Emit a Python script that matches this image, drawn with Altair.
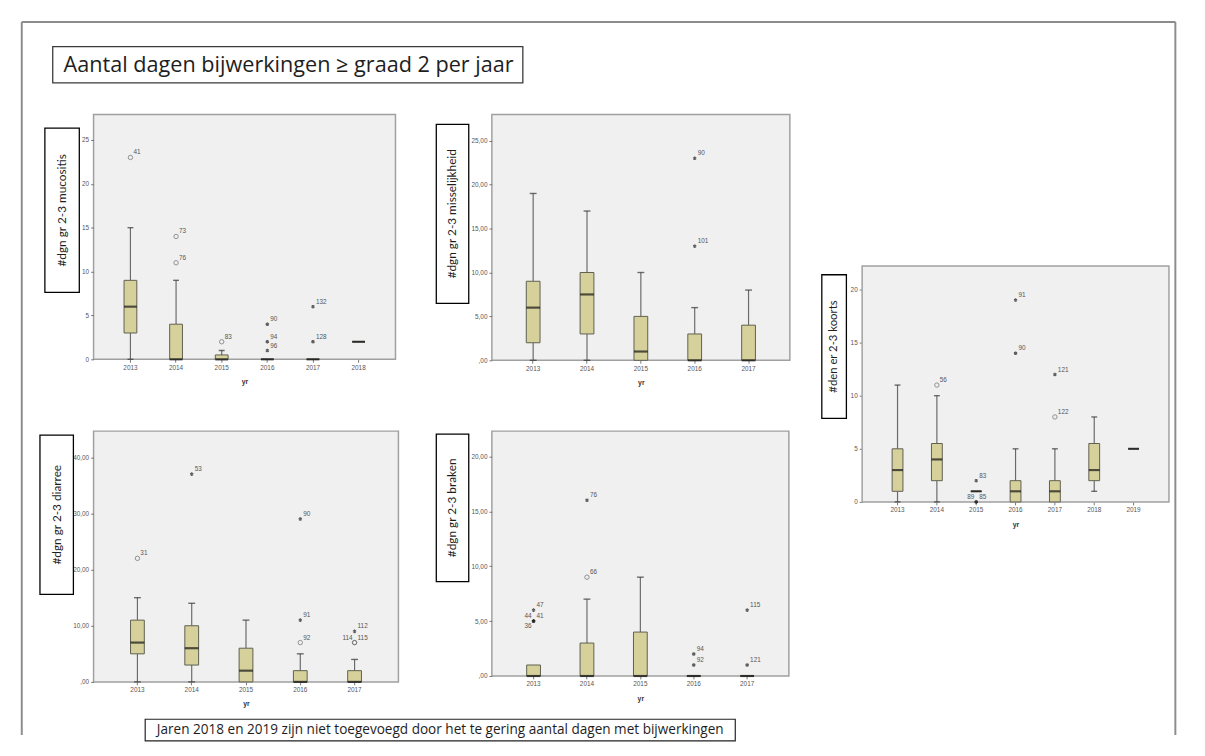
import altair as alt
import pandas as pd

FONT_UI = "Liberation Sans"
FONT_TXT = "Lato"
FONT_HEAD = "Open Sans"
BOX_FILL = "#d6d19b"
BOX_STROKE = "#5e5e50"
PLOT_BG = "#f0f0f0"
FRAME = "#a0a0a0"

TITLE = "Aantal dagen bijwerkingen \u2265 graad 2 per jaar"
CAPTION = "Jaren 2018 en 2019 zijn niet toegevoegd door het te gering aantal dagen met bijwerkingen"

# ---------------- mucositis ----------------
muc_years = ["2013", "2014", "2015", "2016", "2017", "2018"]
muc_lo = [0, 0, 0, 0, 0, 2]
muc_q1 = [3, 0, 0, 0, 0, 2]
muc_med = [6, 0, 0, 0, 0, 2]
muc_q3 = [9, 4, 0.5, 0, 0, 2]
muc_hi = [15, 9, 1, 0, 0, 2]
muc_out_year = ["2013", "2014", "2014", "2015", "2016", "2016", "2016", "2017", "2017"]
muc_out_val = [23, 14, 11, 2, 4, 2, 1, 6, 2]
muc_out_kind = ["o", "o", "o", "o", "*", "*", "*", "*", "*"]
muc_out_case = ["41", "73", "76", "83", "90", "94", "96", "132", "128"]

# ---------------- misselijkheid ----------------
mis_years = ["2013", "2014", "2015", "2016", "2017"]
mis_lo = [0, 0, 0, 0, 0]
mis_q1 = [2, 3, 0, 0, 0]
mis_med = [6, 7.5, 1, 0, 0]
mis_q3 = [9, 10, 5, 3, 4]
mis_hi = [19, 17, 10, 6, 8]
mis_out_year = ["2016", "2016"]
mis_out_val = [23, 13]
mis_out_kind = ["*", "*"]
mis_out_case = ["90", "101"]

# ---------------- koorts ----------------
koo_years = ["2013", "2014", "2015", "2016", "2017", "2018", "2019"]
koo_lo = [0, 0, 1, 0, 0, 1, 5]
koo_q1 = [1, 2, 1, 0, 0, 2, 5]
koo_med = [3, 4, 1, 1, 1, 3, 5]
koo_q3 = [5, 5.5, 1, 2, 2, 5.5, 5]
koo_hi = [11, 10, 1, 5, 5, 8, 5]
koo_out_year = ["2014", "2015", "2015", "2015", "2016", "2016", "2017", "2017"]
koo_out_val = [11, 2, 0, 0, 19, 14, 12, 8]
koo_out_kind = ["o", "*", "*", "*", "*", "*", "*", "o"]
koo_out_case = ["56", "83", "89", "85", "91", "90", "121", "122"]

# ---------------- diarree ----------------
dia_years = ["2013", "2014", "2015", "2016", "2017"]
dia_lo = [0, 0, 0, 0, 0]
dia_q1 = [5, 3, 0, 0, 0]
dia_med = [7, 6, 2, 0, 0]
dia_q3 = [11, 10, 6, 2, 2]
dia_hi = [15, 14, 11, 5, 4]
dia_out_year = ["2013", "2014", "2016", "2016", "2016", "2017", "2017", "2017"]
dia_out_val = [22, 37, 29, 11, 7, 9, 7, 7]
dia_out_kind = ["o", "*", "*", "*", "o", "*", "o", "o"]
dia_out_case = ["31", "53", "90", "91", "92", "112", "114", "115"]

# ---------------- braken ----------------
bra_years = ["2013", "2014", "2015", "2016", "2017"]
bra_lo = [0, 0, 0, 0, 0]
bra_q1 = [0, 0, 0, 0, 0]
bra_med = [0, 0, 0, 0, 0]
bra_q3 = [1, 3, 4, 0, 0]
bra_hi = [1, 7, 9, 0, 0]
bra_out_year = ["2013", "2013", "2013", "2013", "2014", "2014", "2016", "2016", "2017", "2017"]
bra_out_val = [6, 5, 5, 5, 16, 9, 2, 1, 6, 1]
bra_out_kind = ["*", "*", "*", "*", "*", "o", "*", "*", "*", "*"]
bra_out_case = ["47", "44", "41", "36", "76", "66", "94", "92", "115", "121"]

# label placement (default: upper right of the point)
label_side = {
    ("koo", "89"): "ul",
    ("dia", "114"): "ul",
    ("bra", "44"): "ul",
    ("bra", "36"): "ll",
}

STAR = "M0,-1L0,1M-0.87,-0.5L0.87,0.5M-0.87,0.5L0.87,-0.5"
ONE = pd.DataFrame({"a": [0]})
COMMA_EXPR = "datum.value == 0 ? ',00' : replace(format(datum.value, '.2f'), '.', ',')"


def deco_rect(x, x2, y, y2, fill="white", stroke="black", sw=1.3):
    return alt.Chart(ONE).mark_rect(fill=fill, stroke=stroke, strokeWidth=sw).encode(
        x=alt.value(x), x2=alt.value(x2), y=alt.value(y), y2=alt.value(y2))


def deco_text(txt, x, y, size, angle=0, align="center", font=FONT_TXT):
    return alt.Chart(pd.DataFrame({"t": [txt]})).mark_text(
        font=font, fontSize=size, angle=angle, align=align, baseline="middle",
        color="#1e1e1e").encode(x=alt.value(x), y=alt.value(y), text="t:N")


def deco_rule(x, x2, y, y2):
    return alt.Chart(ONE).mark_rule(color="#8c8c8c", strokeWidth=2).encode(
        x=alt.value(x), x2=alt.value(x2), y=alt.value(y), y2=alt.value(y2))


def panel(key, years, lo, q1, med, q3, hi, oyear, oval, okind, ocase,
          ymax, ticks, comma, width, height, pad_outer, box_w, cap_w,
          ytitle, tbox, tsize=12, xrange=None, yrange=None, yoffset=0,
          frame=None, extra=()):
    stats = pd.DataFrame({"yr": years, "lo": lo, "q1": q1, "med": med, "q3": q3, "hi": hi})
    outs = pd.DataFrame({"yr": oyear, "v": oval, "kind": okind, "case": ocase})
    outs["side"] = [label_side.get((key, c), "ur") for c in ocase]

    xs = dict(type="band", domain=years, paddingInner=0, paddingOuter=pad_outer)
    if xrange is not None:
        xs["range"] = xrange
    ys = dict(domain=[0, ymax], nice=False, zero=False)
    if yrange is not None:
        ys["range"] = yrange

    xaxis = alt.Axis(title="yr", labelAngle=0, tickSize=3, labelPadding=2,
                     titlePadding=7)
    yargs = dict(title=None, values=ticks, tickSize=3, labelPadding=2)
    if comma:
        yargs["labelExpr"] = COMMA_EXPR
    else:
        yargs["format"] = "d"
    if yoffset:
        yargs["offset"] = yoffset
    yaxis = alt.Axis(**yargs)

    def X():
        return alt.X("yr:N", scale=alt.Scale(**xs), axis=xaxis)

    def Y(f):
        return alt.Y(f"{f}:Q", scale=alt.Scale(**ys), axis=yaxis)

    base = alt.Chart(stats)
    layers = []
    if frame is not None:
        layers.append(deco_rect(*frame, fill=PLOT_BG, stroke=FRAME, sw=1.5))
    layers += list(extra)
    layers.append(deco_rect(*tbox[:4]))
    layers.append(deco_text(ytitle, tbox[4], tbox[5], tsize, angle=270))

    whisk_up = base.mark_rule(color="#6a6a6a", strokeWidth=1.2).encode(
        x=X(), y=Y("q3"), y2="hi:Q")
    whisk_lo = base.mark_rule(color="#6a6a6a", strokeWidth=1.2).encode(
        x=X(), y=Y("lo"), y2="q1:Q")
    cap_hi = base.transform_filter("datum.hi > datum.q3").mark_tick(
        size=cap_w, thickness=1.4, color="#333333").encode(x=X(), y=Y("hi"))
    cap_lo = base.transform_filter("datum.lo < datum.q1").mark_tick(
        size=cap_w, thickness=1.4, color="#333333").encode(x=X(), y=Y("lo"))
    box = base.mark_bar(size=box_w, fill=BOX_FILL, stroke=BOX_STROKE,
                        strokeWidth=1).encode(x=X(), y=Y("q1"), y2="q3:Q")
    median = base.mark_tick(size=box_w, thickness=2.2, color="#111111").encode(
        x=X(), y=Y("med"))

    ob = alt.Chart(outs)
    circles = ob.transform_filter("datum.kind == 'o'").mark_point(
        shape="circle", filled=False, size=20, color="#666666", strokeWidth=1).encode(
        x=X(), y=Y("v"))
    stars = ob.transform_filter("datum.kind == '*'").mark_point(
        shape=STAR, filled=False, size=13, color="#222222", strokeWidth=1.3).encode(
        x=X(), y=Y("v"))
    lab_kw = dict(font=FONT_UI, fontSize=6.5, color="#555555", baseline="middle")
    lab_ur = ob.transform_filter("datum.side == 'ur'").mark_text(
        align="left", dx=3, dy=-5, **lab_kw).encode(x=X(), y=Y("v"), text="case:N")
    lab_ul = ob.transform_filter("datum.side == 'ul'").mark_text(
        align="right", dx=-2, dy=-5, **lab_kw).encode(x=X(), y=Y("v"), text="case:N")
    lab_ll = ob.transform_filter("datum.side == 'll'").mark_text(
        align="right", dx=-2, dy=5, **lab_kw).encode(x=X(), y=Y("v"), text="case:N")

    layers += [whisk_up, whisk_lo, cap_hi, cap_lo, box, median,
               circles, stars, lab_ur, lab_ul, lab_ll]
    ch = alt.layer(*layers).properties(width=width, height=height)
    if frame is not None:
        ch = ch.properties(view=alt.ViewBackground(fillOpacity=0, strokeOpacity=0))
    return ch


# slide decorations (drawn with panel 1)
slide = [
    deco_rule(-73, 1100, -94, -94),
    deco_rule(-73, -73, -94, 631),
    deco_rule(1100, 1100, -94, 631),
    deco_rect(-41.5, 436.5, -69, -32, stroke="#3a3a3a", sw=1.3),
    deco_text(TITLE, -30.5, -50.5, 22, align="left", font=FONT_HEAD),
]
caption = [
    deco_rect(52.5, 652.5, 293, 315, stroke="#222222", sw=1.2),
    deco_text(CAPTION, 352.5, 304, 13.8, font=FONT_HEAD),
]

p1 = panel("muc", muc_years, muc_lo, muc_q1, muc_med, muc_q3, muc_hi,
           muc_out_year, muc_out_val, muc_out_kind, muc_out_case,
           27.9, [0, 5, 10, 15, 20, 25], False, 307, 249, 0.308, 13, 6,
           "#dgn gr 2-3 mucositis", (-49.5, -14.5, 14, 181, -32, 97.5),
           extra=slide)
p2 = panel("mis", mis_years, mis_lo, mis_q1, mis_med, mis_q3, mis_hi,
           mis_out_year, mis_out_val, mis_out_kind, mis_out_case,
           28.0, [0, 5, 10, 15, 20, 25], True, 303, 250, 0.267, 14, 7,
           "#dgn gr 2-3 misselijkheid", (-56.5, -23.5, 10, 192, -40, 101))
p4 = panel("dia", dia_years, dia_lo, dia_q1, dia_med, dia_q3, dia_hi,
           dia_out_year, dia_out_val, dia_out_kind, dia_out_case,
           44.66, [0, 10, 20, 30, 40], True, 310, 255, 0.308, 14, 7,
           "#dgn gr 2-3 diarree", (-54.5, -20.5, 4, 166, -37.5, 85),
           extra=caption)
p5 = panel("bra", bra_years, bra_lo, bra_q1, bra_med, bra_q3, bra_hi,
           bra_out_year, bra_out_val, bra_out_kind, bra_out_case,
           22.3, [0, 5, 10, 15, 20], True, 302, 249, 0.281, 14, 7,
           "#dgn gr 2-3 braken", (-56.5, -23.5, 3, 153, -40, 78))
p3 = panel("koo", koo_years, koo_lo, koo_q1, koo_med, koo_q3, koo_hi,
           koo_out_year, koo_out_val, koo_out_kind, koo_out_case,
           22.22, [0, 5, 10, 15, 20], False, 284, 72, 0.4, 11, 6,
           "#den er 2-3 koorts", (-69.5, -44.5, -159, -13, -57, -86), tsize=11.5,
           xrange=[-28.5, 283.5], yrange=[72, -168], yoffset=28.5,
           frame=(-28.5, 283.5, -168, 72))

dummy = alt.Chart(ONE).mark_point(opacity=0).encode(
    x=alt.value(0), y=alt.value(0)).properties(
    width=1, height=1, view=alt.ViewBackground(fillOpacity=0, strokeOpacity=0))

chart = alt.concat(
    p1, p2, dummy, p4, p5, p3,
    columns=3, spacing={"row": 67, "column": 95}, bounds="flush", align="all",
).properties(
    padding={"left": 12, "top": 6, "right": 0, "bottom": 0}
).configure_view(
    fill=PLOT_BG, stroke=FRAME, strokeWidth=1.5
).configure_axis(
    labelFont=FONT_UI, labelFontSize=6.5, labelColor="#555555",
    tickColor="#777777", domain=False, grid=False,
    titleFont=FONT_UI, titleFontSize=7, titleFontWeight="bold", titleColor="#333333",
)

chart.save("out.html", embed_options={"renderer": "svg", "actions": False})
